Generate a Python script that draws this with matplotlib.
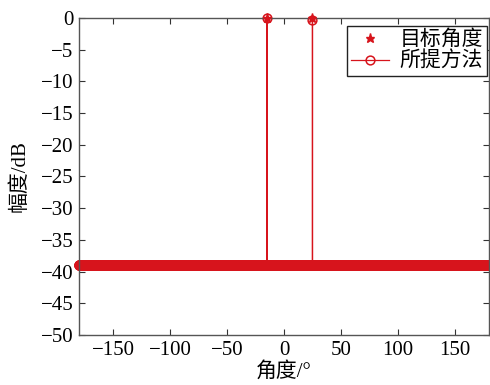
import numpy as np
import matplotlib
matplotlib.use("Agg")
import matplotlib.pyplot as plt

plt.rcParams['font.family'] = ['Liberation Serif', 'Noto Sans CJK SC', 'DejaVu Sans']
plt.rcParams['axes.unicode_minus'] = True

# data
angles = np.round(np.arange(-180, 180.05, 0.1), 1)   # scan grid, 0.1 degree
floor_db = -39.0                                      # sidelobe floor of the proposed method
peak_angles = [-15.0, 25.0]
peak_values = [0.0, -0.3]
target_angles = [-15, 25]
target_values = [0.0, 0.0]

xticks = [-150, -100, -50, 0, 50, 100, 150]
yticks = [0, -5, -10, -15, -20, -25, -30, -35, -40, -45, -50]

spectrum = np.full(len(angles), floor_db)
for a, v in zip(peak_angles, peak_values):
    spectrum[np.isclose(angles, a)] = v

red = '#d7141c'

fig = plt.figure(figsize=(4.9, 3.85), dpi=100)
ax = fig.add_axes([79/490, 1-335/385, 410/490, 317/385])

ax.plot(target_angles, target_values, linestyle='none', marker='*', color=red,
        markersize=6.5, label='目标角度', zorder=3, clip_on=False)
ax.plot(angles, spectrum, color=red, linewidth=0.9, marker='o', markersize=6.3,
        markerfacecolor='none', markeredgewidth=1.1, label='所提方法', clip_on=False)

ax.set_xlim(-180, 180)
ax.set_ylim(-50, 0)
ax.set_xticks(xticks)
ax.set_yticks(yticks)
ax.tick_params(direction='in', top=True, right=True, labelsize=15, length=4,
               color='#333333', pad=4)
for s in ax.spines.values():
    s.set_color('#555555')
    s.set_linewidth(1.0)

ax.set_xlabel('角度/°', fontsize=15, labelpad=2)
ax.set_ylabel('幅度/dB', fontsize=15, labelpad=8)

leg = ax.legend(loc='upper right', bbox_to_anchor=(1-2/410, 1-8/317), borderaxespad=0,
                fontsize=15, handlelength=1.8, handletextpad=0.5, borderpad=0.2,
                labelspacing=0.1, fancybox=False, framealpha=1)
leg.get_frame().set_edgecolor('#222222')
leg.get_frame().set_linewidth(1.0)

fig.savefig('out.png', dpi=100)
